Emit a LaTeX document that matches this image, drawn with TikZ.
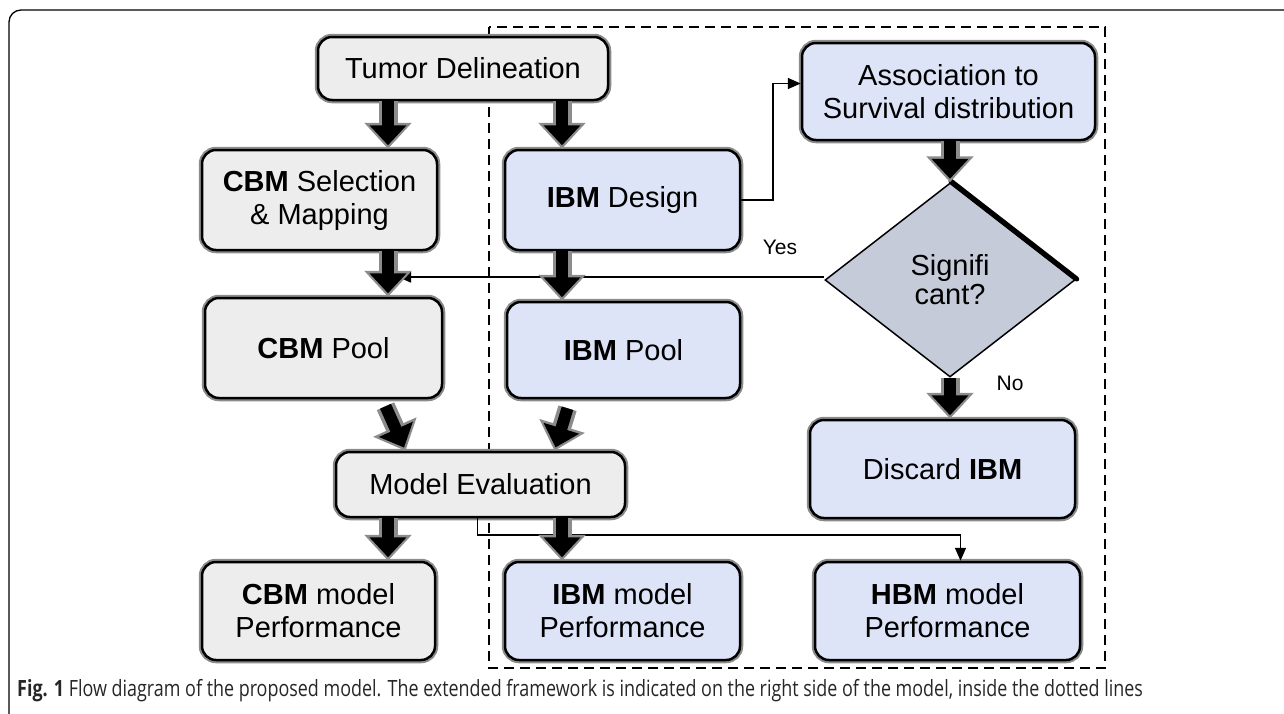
\documentclass[tikz,border=0pt]{standalone}
\usepackage{fontspec}
\setmainfont{Liberation Sans}
\newfontfamily\capfont[FakeStretch=0.8]{Open Sans}
\usetikzlibrary{shapes.geometric,arrows.meta}

\definecolor{cbmgray}{HTML}{EDEDED}
\definecolor{ibmblue}{HTML}{DEE4F7}
\definecolor{diamblue}{HTML}{C6CBDA}
\definecolor{rimgray}{HTML}{8C8C8C}

\newcommand{\boxfont}{\fontsize{29}{33}\selectfont}

\begin{document}
\begin{tikzpicture}[x=1pt,y=-1pt]
    \tikzstyle{flowbox}=[rectangle, rounded corners=14pt, draw=black, line width=2.5pt,
        align=center, inner sep=0pt, font=\boxfont,
        preaction={draw=rimgray, line width=6.5pt}]
    \tikzstyle{cbmbox}=[flowbox, fill=cbmgray]
    \tikzstyle{ibmbox}=[flowbox, fill=ibmblue]
    \tikzstyle{fatarr}=[draw=black, line width=12pt, -{Triangle[width=36pt,length=20pt]}, shorten >=3.5pt,
        preaction={draw=rimgray, line width=19pt, shorten >=0pt, -{Triangle[width=46pt,length=26pt]}}]
    \tikzstyle{thinarr}=[line width=1.6pt, -{Triangle[width=11pt,length=13pt]}]
    \useasboundingbox (0,0) rectangle (1284,713);

    % frame and the dashed extension
    \draw[line width=1.3pt, rounded corners=12pt] (9,10) rectangle (1310,740);
    \draw[line width=2pt, dash pattern=on 10pt off 6pt] (489,27) rectangle (1105,668);

    \coordinate (colcbm) at (388,0);
    \coordinate (colibm) at (562,0);
    \coordinate (yestip) at (398,0);

    % boxes
    \node[cbmbox, minimum width=290pt, minimum height=63pt] (tumor) at (463,68.5) {Tumor Delineation};
    \node[cbmbox, minimum width=235pt, minimum height=100pt] (cbmsel) at (319.5,200) {\textbf{CBM} Selection\\\& Mapping};
    \node[ibmbox, minimum width=235pt, minimum height=100pt] (ibmdesign) at (622.5,200) {\textbf{IBM} Design};
    \node[ibmbox, minimum width=293pt, minimum height=97pt] (assoc) at (948.5,91.5) {Association to\\Survival distribution};
    \node[cbmbox, minimum width=237pt, minimum height=100pt] (cbmpool) at (323.5,348) {\textbf{CBM} Pool};
    \node[ibmbox, minimum width=233pt, minimum height=96pt] (ibmpool) at (623.5,350) {\textbf{IBM} Pool};
    \node[ibmbox, minimum width=265pt, minimum height=98pt] (discard) at (942.5,469) {Discard \textbf{IBM}};
    \node[cbmbox, minimum width=289pt, minimum height=65pt] (me) at (480.5,484.5) {Model Evaluation};
    \node[cbmbox, minimum width=233pt, minimum height=98pt] (cbmperf) at (318.5,611) {\textbf{CBM} model\\Performance};
    \node[ibmbox, minimum width=235pt, minimum height=98pt] (ibmperf) at (622.5,611) {\textbf{IBM} model\\Performance};
    \node[ibmbox, minimum width=265pt, minimum height=98pt] (hbmperf) at (947.5,611) {\textbf{HBM} model\\Performance};

    \node[diamond, draw=black, line width=1.5pt, fill=diamblue, minimum width=250pt, minimum height=194pt,
        inner sep=0pt, align=center, font=\fontsize{29}{29}\selectfont] (decide) at (950,280) {Signifi\\cant?};
    \draw[line width=5pt, line cap=round] ([xshift=1pt,yshift=1pt]decide.north) -- ([xshift=1pt,yshift=1pt]decide.east);

    \node[font=\fontsize{21}{25}\selectfont] (yeslbl) at (780,247) {Yes};
    \node[font=\fontsize{21}{25}\selectfont] (nolbl) at (1010,383) {No};

    % thin connectors
    \draw[thinarr] (ibmdesign.east) -- ++(32,0) |- ([yshift=8pt]assoc.west);
    \draw[thinarr] ([yshift=3pt]decide.west) -- ([yshift=3pt]decide.west -| yestip);
    \draw[thinarr] ([xshift=-3pt]me.south) -- ++(0,17) -| ([xshift=13pt]hbmperf.north);

    % block arrows
    \draw[fatarr] (tumor.south -| colcbm) -- (cbmsel.north -| colcbm);
    \draw[fatarr] (tumor.south -| colibm) -- (ibmdesign.north -| colibm);
    \draw[fatarr] (cbmsel.south -| colcbm) -- (cbmpool.north -| colcbm);
    \draw[fatarr] (ibmdesign.south -| colibm) -- (ibmpool.north -| colibm);
    \draw[fatarr] (assoc.south -| decide) -- (decide.north);
    \draw[fatarr] (decide.south) -- (discard.north -| decide);
    \draw[fatarr] ([xshift=62pt,yshift=-7pt]cbmpool.south) -- ([xshift=-75pt]me.north);
    \draw[fatarr] ([xshift=-56pt,yshift=-9pt]ibmpool.south) -- ([xshift=74pt]me.north);
    \draw[fatarr] (me.south -| colcbm) -- (cbmperf.north -| colcbm);
    \draw[fatarr] (me.south -| colibm) -- (ibmperf.north -| colibm);

    \node[anchor=west, inner sep=0pt, text=black!85, font=\capfont\fontsize{22.4}{26}\selectfont] (caption) at (17,691)
        {\textbf{Fig. 1} Flow diagram of the proposed model. The extended framework is indicated on the right side of the model, inside the dotted lines};
\end{tikzpicture}
\end{document}
